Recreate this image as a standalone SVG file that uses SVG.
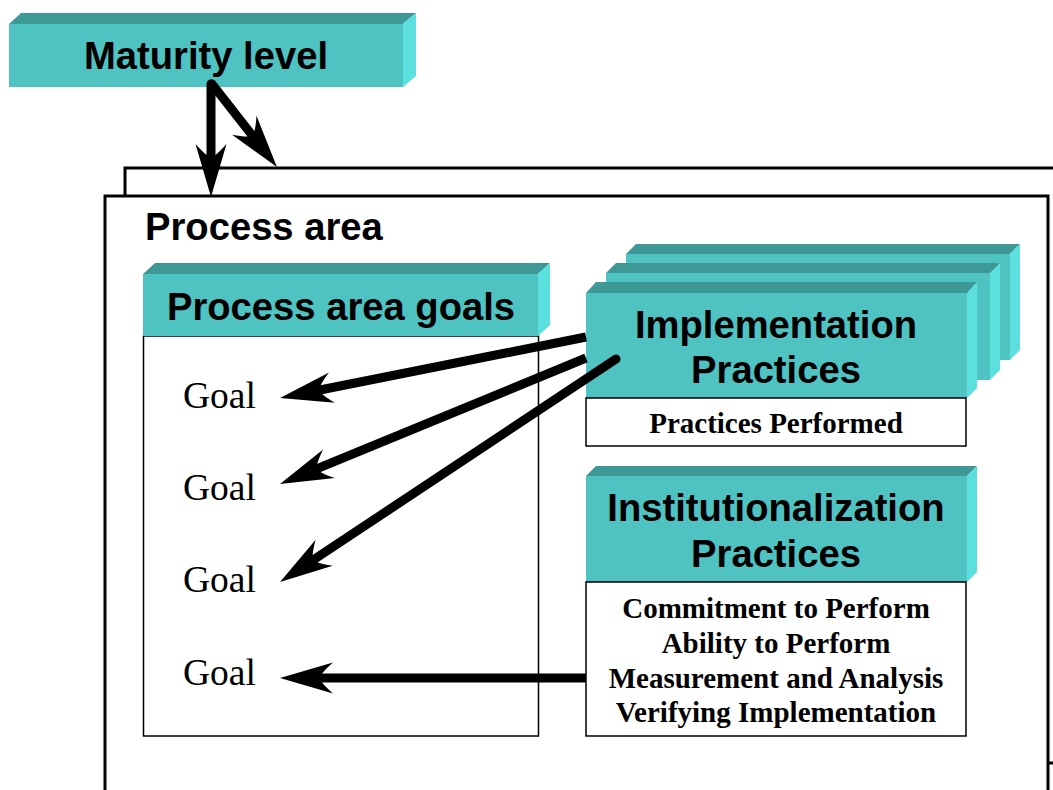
<svg xmlns="http://www.w3.org/2000/svg" width="1053" height="790" viewBox="0 0 1053 790">
<style>
.front{fill:#4EC3C2}
.top{fill:#3E9896}
.side{fill:#5CE0DF}
.hdr{font-family:"Liberation Sans",Arial,sans-serif;font-weight:bold;font-size:38.2px;fill:#000}
.goal{font-family:"Liberation Serif","Times New Roman",serif;font-size:37.5px;fill:#000}
.item{font-family:"Liberation Serif","Times New Roman",serif;font-weight:bold;font-size:29px;fill:#000}
.frame{fill:#fff;stroke:#000;stroke-width:3}
.panel{fill:#fff;stroke:#000;stroke-width:1.5}
.conn{fill:none;stroke:#000;stroke-width:9;marker-end:url(#head)}
</style>
<defs>
<marker id="head" viewBox="0 -16 54 32" markerWidth="54" markerHeight="32" refX="20" refY="0" markerUnits="userSpaceOnUse" orient="auto">
<path d="M53,0 L0,-15.5 Q13,-4 13,0 Q13,4 0,15.5 Z" fill="#000"/>
</marker>
</defs>
<rect width="1053" height="790" fill="#fff"/>

<g id="process-area-frame">
<rect class="frame" x="125" y="168" width="960" height="595"/>
<rect class="frame" x="105" y="196" width="943" height="620"/>
<text class="hdr" x="145" y="240">Process area</text>
</g>

<g id="maturity-level">
<rect class="front" x="9" y="24" width="394" height="63"/>
<polygon class="top" points="9,24 21,13 416,13 403,24"/>
<polygon class="side" points="403,24 416,13 416,76 403,87"/>
<text class="hdr" x="206" y="69" text-anchor="middle">Maturity level</text>
</g>

<g id="process-area-goals">
<rect class="panel" x="143.5" y="336" width="395" height="400" stroke-width="1.2"/>
<rect class="front" x="143" y="274" width="395" height="62"/>
<polygon class="top" points="143,274 155,263 550,263 538,274"/>
<polygon class="side" points="538,274 550,263 550,325 538,336"/>
<text class="hdr" x="341" y="320" text-anchor="middle">Process area goals</text>
<text class="goal" x="183" y="408">Goal</text>
<text class="goal" x="183" y="500">Goal</text>
<text class="goal" x="183" y="592">Goal</text>
<text class="goal" x="183" y="685">Goal</text>
</g>

<g id="implementation-practices">
<rect class="front" x="626" y="254" width="384" height="106"/>
<polygon class="top" points="626,254 636,244 1020,244 1010,254"/>
<polygon class="side" points="1010,254 1020,244 1020,350 1010,360"/>
<rect class="front" x="606" y="273" width="384" height="107"/>
<polygon class="top" points="606,273 616,263 1000,263 990,273"/>
<polygon class="side" points="990,273 1000,263 1000,370 990,380"/>
<rect class="front" x="586" y="293" width="381" height="105"/>
<polygon class="top" points="586,293 596,282 977,282 967,293"/>
<polygon class="side" points="967,293 977,282 977,388 967,398"/>
<text class="hdr" x="776" y="338" text-anchor="middle">Implementation</text>
<text class="hdr" x="776" y="383" text-anchor="middle">Practices</text>
<rect class="panel" x="586" y="398" width="380" height="48"/>
<text class="item" x="776" y="433" text-anchor="middle">Practices Performed</text>
</g>

<g id="institutionalization-practices">
<rect class="front" x="586" y="476" width="381" height="106"/>
<polygon class="top" points="586,476 596,466 977,466 967,476"/>
<polygon class="side" points="967,476 977,466 977,572 967,582"/>
<text class="hdr" x="776" y="521" text-anchor="middle">Institutionalization</text>
<text class="hdr" x="776" y="567" text-anchor="middle">Practices</text>
<rect class="panel" x="586" y="582" width="380" height="154"/>
<text class="item" x="776" y="618" text-anchor="middle">Commitment to Perform</text>
<text class="item" x="776" y="653" text-anchor="middle">Ability to Perform</text>
<text class="item" x="776" y="688" text-anchor="middle">Measurement and Analysis</text>
<text class="item" x="776" y="722" text-anchor="middle">Verifying Implementation</text>
</g>

<g id="connectors">
<path class="conn" d="M211,84 L211,164" stroke-linecap="round"/>
<path class="conn" d="M212,84 L256.6,141" stroke-linecap="round"/>
<path class="conn" d="M586,337 L312.4,391.5"/>
<path class="conn" d="M586,358 L310.5,471.4"/>
<path class="conn" d="M616,359 L307.5,563.8" stroke-linecap="round"/>
<path class="conn" d="M586,678 L313,678"/>
</g>
</svg>
